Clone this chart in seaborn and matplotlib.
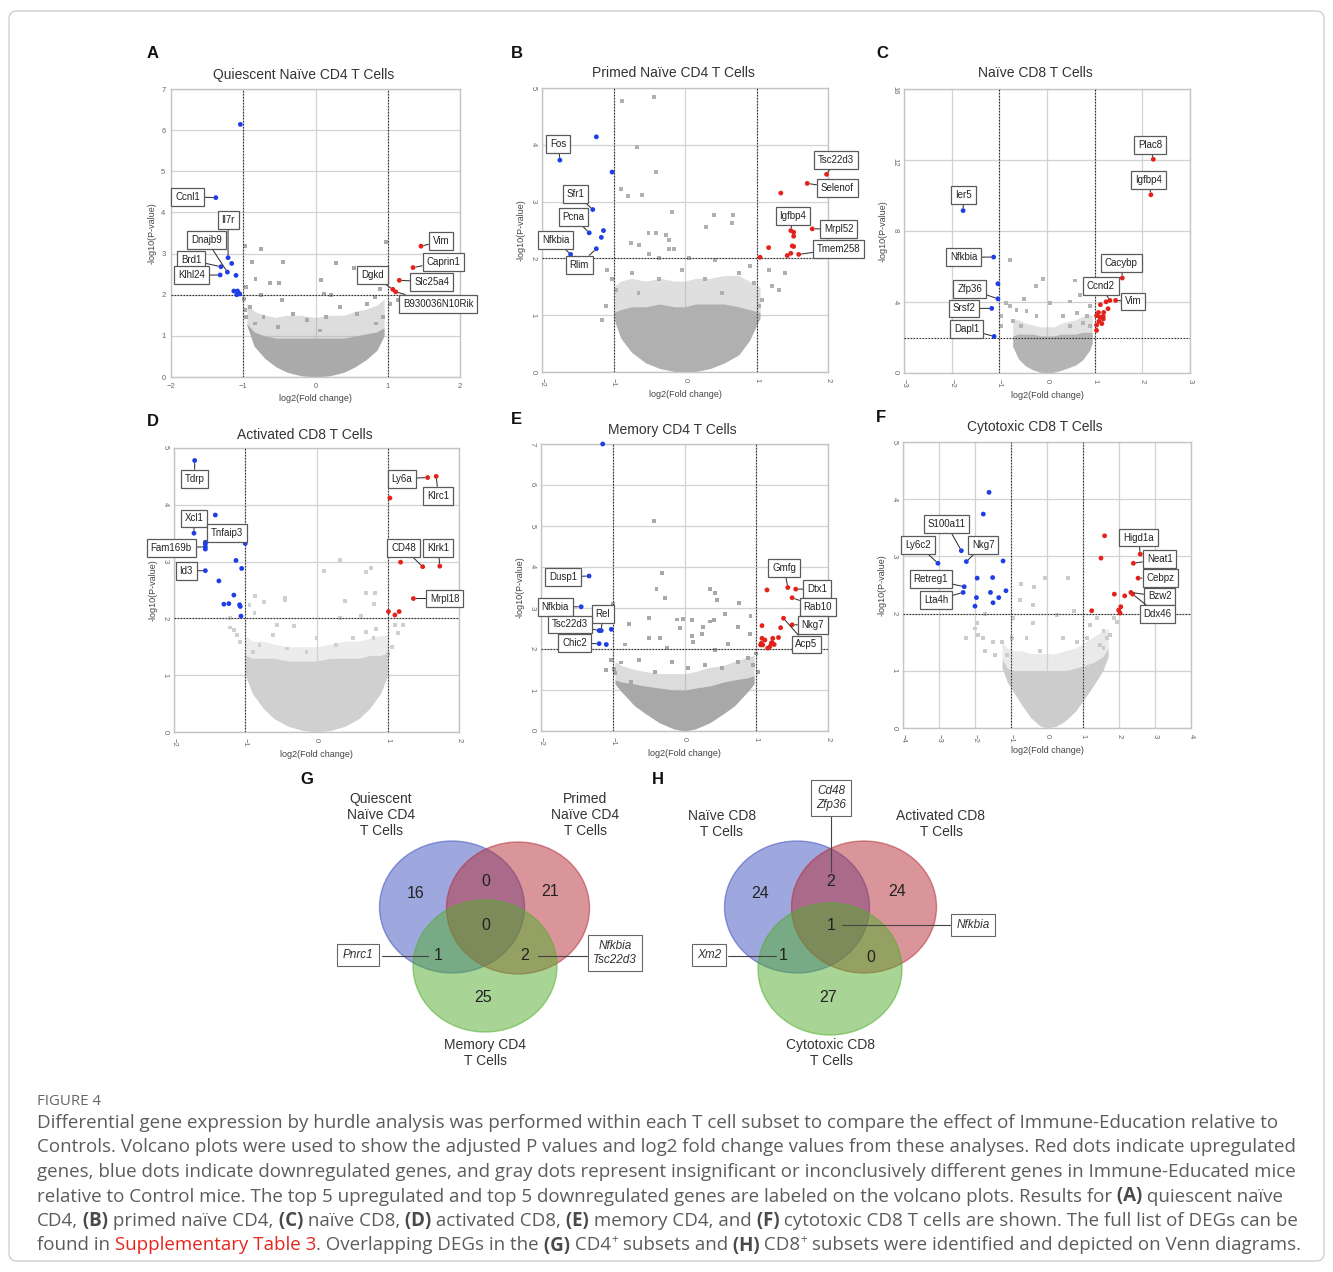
import matplotlib
matplotlib.use("Agg")
import matplotlib.pyplot as plt
from matplotlib.patches import Ellipse, FancyBboxPatch
import seaborn as sns
import numpy as np

sns.set_theme(style="white")
plt.rcParams['font.family'] = ['Liberation Sans', 'DejaVu Sans']

# ---------------------------------------------------------------- DATA
# Panel A  Quiescent Naive CD4
A_down = [(-1.04, 6.14), (-1.38, 4.36), (-1.21, 2.90), (-1.16, 2.76), (-1.31, 2.68), (-1.22, 2.55),
          (-1.10, 2.47), (-1.32, 2.48), (-1.13, 2.09), (-1.08, 2.09), (-1.06, 2.03), (-1.09, 2.00), (-1.05, 2.02)]
A_up = [(1.46, 3.18), (1.35, 2.66), (1.16, 2.35), (1.07, 2.13), (1.11, 2.07)]
A_ns = [(-0.98, 3.19), (-0.76, 3.12), (-0.88, 2.80), (-0.45, 2.80), (-0.83, 2.39), (-0.63, 2.29), (-0.50, 2.29),
        (-0.96, 2.19), (0.08, 2.35), (0.28, 2.77), (0.53, 2.66), (0.98, 3.28), (0.89, 2.15), (0.12, 2.03), (0.22, 2.00),
        (-0.75, 1.99), (-0.47, 1.87), (-0.91, 1.70), (-0.96, 1.46), (-0.84, 1.30), (-0.72, 1.46), (-0.31, 1.54),
        (-0.12, 1.38), (0.15, 1.46), (0.34, 1.70), (0.57, 1.54), (0.71, 1.78), (0.82, 1.95), (0.94, 1.46), (1.03, 1.78),
        (1.14, 1.87), (0.84, 1.30), (-0.52, 1.22), (0.06, 1.13), (-0.99, 1.90), (-0.97, 1.62)]
A_cloud_x = [-0.95, -0.85, -0.7, -0.55, -0.4, -0.2, 0, 0.2, 0.4, 0.55, 0.7, 0.85, 0.95]
A_cloud_lo = [1.25, 0.75, 0.45, 0.25, 0.12, 0.03, 0, 0.03, 0.12, 0.25, 0.42, 0.65, 1.0]
A_cloud_hi = [1.3, 1.1, 1.0, 0.95, 0.95, 0.95, 0.95, 0.95, 0.95, 1.0, 1.05, 1.1, 1.2]
A_cloud_top = [1.8, 1.6, 1.5, 1.45, 1.5, 1.5, 1.45, 1.5, 1.5, 1.6, 1.65, 1.75, 1.9]
A_genes = [("Ccnl1", (-1.38, 4.36)), ("Il7r", (-1.21, 2.90)), ("Dnajb9", (-1.22, 2.55)), ("Brd1", (-1.31, 2.68)),
           ("Klhl24", (-1.32, 2.48)), ("Vim", (1.46, 3.18)), ("Caprin1", (1.35, 2.66)), ("Slc25a4", (1.16, 2.35)),
           ("Dgkd", (1.07, 2.13)), ("B930036N10Rik", (1.11, 2.07))]

# Panel B  Primed Naive CD4
B_down = [(-1.75, 3.73), (-1.24, 4.14), (-1.02, 3.52), (-1.29, 2.86), (-1.34, 2.45), (-1.14, 2.49), (-1.17, 2.37),
          (-1.24, 2.17), (-1.60, 2.07)]
B_up = [(1.98, 3.48), (1.71, 3.32), (1.34, 3.15), (1.48, 2.49), (1.52, 2.46), (1.52, 2.39), (1.78, 2.52), (1.50, 2.22),
        (1.52, 2.21), (1.17, 2.19), (1.48, 2.09), (1.43, 2.05), (1.59, 2.07), (1.05, 2.02)]
B_ns = [(-0.88, 4.77), (-0.43, 4.84), (-0.67, 3.96), (-0.41, 3.52), (-0.90, 3.22), (-0.80, 3.10), (-0.60, 3.12),
        (-0.18, 2.81), (0.41, 2.76), (0.67, 2.77), (0.66, 2.63), (0.29, 2.56), (-0.51, 2.45), (-0.41, 2.45),
        (-0.27, 2.42), (-0.23, 2.33), (-0.75, 2.27), (-0.64, 2.24), (-0.23, 2.17), (-0.15, 2.17), (-0.50, 2.08),
        (-0.36, 2.00), (0.05, 2.00), (-1.09, 1.80), (-1.02, 1.63), (-0.97, 1.45), (-0.74, 1.74), (-0.65, 1.39),
        (-0.37, 1.63), (-0.04, 1.80), (0.28, 1.63), (0.42, 1.98), (0.52, 1.39), (0.75, 1.74), (0.91, 1.86),
        (0.96, 1.57), (1.17, 1.80), (1.22, 1.51), (1.31, 1.45), (1.40, 1.74), (-1.11, 1.16), (-1.16, 0.92),
        (1.08, 1.27), (1.03, 1.16)]
B_cloud_x = [-1.0, -0.9, -0.75, -0.55, -0.35, -0.15, 0, 0.15, 0.35, 0.55, 0.75, 0.9, 1.05]
B_cloud_lo = [0.95, 0.6, 0.35, 0.16, 0.06, 0.01, 0, 0.01, 0.06, 0.16, 0.3, 0.55, 0.95]
B_cloud_hi = [1.05, 1.1, 1.15, 1.15, 1.2, 1.15, 1.15, 1.2, 1.2, 1.2, 1.15, 1.1, 1.05]
B_cloud_top = [1.5, 1.6, 1.65, 1.6, 1.65, 1.6, 1.6, 1.65, 1.65, 1.7, 1.7, 1.6, 1.5]
B_genes = [("Fos", (-1.75, 3.73)), ("Sfr1", (-1.29, 2.86)), ("Pcna", (-1.34, 2.45)), ("Nfkbia", (-1.60, 2.07)),
           ("Rlim", (-1.24, 2.17)), ("Tsc22d3", (1.98, 3.48)), ("Selenof", (1.71, 3.32)), ("Igfbp4", (1.48, 2.49)),
           ("Mrpl52", (1.78, 2.52)), ("Tmem258", (1.59, 2.07))]

# Panel C  Naive CD8
C_down = [(-1.76, 9.15), (-1.12, 6.53), (-1.03, 5.03), (-1.03, 4.18), (-1.16, 3.64), (-1.11, 2.06)]
C_up = [(2.23, 12.04), (2.18, 10.04), (1.58, 5.35), (1.32, 4.09), (1.44, 4.09), (1.24, 4.01), (1.12, 3.85),
        (1.08, 3.41), (1.04, 3.23), (1.11, 3.15), (1.18, 3.19), (1.09, 2.91), (1.15, 2.78), (1.04, 2.70),
        (1.18, 3.04), (1.04, 2.40), (1.28, 3.62), (1.19, 3.41)]
C_ns = [(-0.78, 6.38), (-0.09, 5.31), (-0.24, 4.88), (0.58, 5.21), (0.70, 4.37), (-0.48, 4.18), (-0.86, 3.94),
        (0.06, 3.94), (0.49, 4.03), (0.90, 3.75), (-0.78, 3.75), (-0.64, 3.56), (-0.43, 3.47), (-0.22, 3.19),
        (0.34, 3.19), (0.62, 3.38), (0.83, 3.19), (-0.96, 2.63), (-0.71, 2.91), (-0.54, 2.63), (0.48, 2.63),
        (0.76, 2.81), (0.90, 2.63), (-0.96, 3.19)]
C_cloud_x = [-0.72, -0.6, -0.45, -0.3, -0.15, 0, 0.15, 0.3, 0.45, 0.6, 0.75, 0.9, 0.95]
C_cloud_lo = [1.5, 0.8, 0.4, 0.18, 0.05, 0, 0.05, 0.15, 0.3, 0.45, 0.75, 1.3, 1.7]
C_cloud_hi = [2.1, 2.2, 2.2, 2.2, 2.1, 2.1, 2.1, 2.2, 2.2, 2.2, 2.3, 2.3, 2.3]
C_cloud_top = [3.0, 3.0, 2.8, 2.7, 2.6, 2.6, 2.6, 2.8, 2.9, 3.0, 3.2, 3.3, 3.2]
C_genes = [("Ier5", (-1.76, 9.15)), ("Nfkbia", (-1.12, 6.53)), ("Zfp36", (-1.03, 4.18)), ("Srsf2", (-1.16, 3.64)),
           ("Dapl1", (-1.11, 2.06)), ("Plac8", (2.23, 12.04)), ("Igfbp4", (2.18, 10.04)), ("Cacybp", (1.58, 5.35)),
           ("Ccnd2", (1.32, 4.09)), ("Vim", (1.44, 4.09))]

# Panel D  Activated CD8
D_down = [(-1.71, 4.78), (-1.42, 3.82), (-1.72, 3.50), (-1.56, 3.34), (-1.56, 3.31), (-1.56, 3.26), (-1.56, 3.22),
          (-1.00, 3.32), (-1.13, 3.02), (-1.05, 2.88), (-1.56, 2.84), (-1.37, 2.66), (-1.16, 2.41), (-1.30, 2.25),
          (-1.23, 2.26), (-1.08, 2.24), (-1.07, 2.21), (-1.06, 2.04)]
D_up = [(1.56, 4.48), (1.68, 4.50), (1.03, 4.12), (1.18, 2.99), (1.49, 2.91), (1.73, 2.92), (1.36, 2.35),
        (1.01, 2.12), (1.10, 2.06), (1.16, 2.12)]
D_ns = [(0.33, 3.02), (0.10, 2.84), (0.76, 2.89), (0.70, 2.82), (0.69, 2.45), (0.82, 2.45), (0.81, 2.25),
        (0.40, 2.31), (-0.44, 2.36), (-0.44, 2.32), (-0.86, 2.40), (-0.74, 2.29), (-0.94, 2.24), (-0.87, 2.09),
        (-1.22, 2.00), (-1.22, 1.84), (-1.16, 1.79), (-1.12, 1.71), (-1.08, 1.59), (0.62, 2.05), (0.33, 2.00),
        (-0.56, 1.88), (-0.31, 1.87), (-0.61, 1.71), (0.00, 1.65), (0.28, 1.53), (0.51, 1.65), (0.70, 1.76),
        (0.80, 1.65), (0.84, 1.82), (1.10, 1.88), (1.14, 1.74), (1.21, 1.88), (1.06, 1.50), (1.00, 1.38),
        (-0.89, 1.41), (-0.80, 1.53), (-0.42, 1.47), (-0.14, 1.41)]
D_cloud_x = [-1.0, -0.9, -0.75, -0.6, -0.4, -0.2, 0, 0.2, 0.4, 0.6, 0.75, 0.9, 1.0]
D_cloud_lo = [1.0, 0.68, 0.42, 0.24, 0.1, 0.03, 0, 0.03, 0.1, 0.24, 0.42, 0.68, 1.0]
D_cloud_hi = [1.35, 1.3, 1.3, 1.3, 1.25, 1.25, 1.25, 1.3, 1.3, 1.3, 1.35, 1.35, 1.4]
D_cloud_top = [1.7, 1.6, 1.6, 1.55, 1.5, 1.5, 1.5, 1.55, 1.6, 1.6, 1.65, 1.7, 1.7]
D_genes = [("Tdrp", (-1.71, 4.78)), ("Xcl1", (-1.72, 3.50)), ("Tnfaip3", (-1.56, 3.31)), ("Fam169b", (-1.56, 3.26)),
           ("Id3", (-1.56, 2.84)), ("Ly6a", (1.56, 4.48)), ("Klrc1", (1.68, 4.50)), ("CD48", (1.49, 2.91)),
           ("Klrk1", (1.73, 2.92)), ("Mrpl18", (1.36, 2.35))]

# Panel E  Memory CD4
E_down = [(-1.14, 7.0), (-1.33, 3.78), (-1.44, 3.03), (-1.19, 2.45), (-1.16, 2.45), (-1.02, 2.48), (-1.19, 2.13),
          (-1.09, 2.11)]
E_up = [(1.15, 3.44), (1.44, 3.50), (1.55, 3.46), (1.50, 3.25), (1.50, 2.59), (1.38, 2.75), (1.34, 2.52),
        (1.08, 2.57), (1.31, 2.28), (1.08, 2.26), (1.12, 2.22), (1.07, 2.14), (1.09, 2.10), (1.23, 2.26),
        (1.22, 2.16), (1.25, 2.11), (1.19, 2.06), (1.16, 2.02), (1.21, 2.14), (1.06, 2.10)]
E_ns = [(-0.42, 5.13), (-0.32, 3.86), (-0.39, 3.46), (-0.27, 3.25), (0.35, 3.46), (0.43, 3.36), (0.45, 3.20),
        (0.76, 3.12), (0.56, 2.85), (0.92, 2.81), (0.41, 2.71), (0.36, 2.67), (0.75, 2.53), (0.26, 2.53),
        (-0.02, 2.73), (-0.10, 2.72), (0.10, 2.71), (-0.50, 2.75), (-0.77, 2.60), (-0.50, 2.26), (-0.34, 2.26),
        (-0.06, 2.52), (0.10, 2.32), (0.24, 2.36), (0.12, 2.18), (-0.25, 2.02), (0.42, 1.98), (0.91, 2.36),
        (0.61, 2.12), (-0.83, 2.11), (-0.98, 1.51), (-0.97, 1.41), (-1.10, 1.49), (-1.02, 1.73), (-0.64, 1.73),
        (-0.41, 1.45), (-0.18, 1.69), (0.05, 1.53), (0.28, 1.61), (0.52, 1.53), (0.75, 1.69), (0.89, 1.77),
        (0.96, 1.61), (1.00, 1.89), (1.03, 1.45), (-0.88, 1.67), (-0.74, 1.20), (-1.0, 3.1)]
E_cloud_x = [-0.97, -0.88, -0.7, -0.55, -0.35, -0.15, 0, 0.15, 0.35, 0.55, 0.7, 0.88, 0.97]
E_cloud_lo = [1.15, 0.96, 0.62, 0.43, 0.2, 0.05, 0, 0.05, 0.2, 0.43, 0.62, 0.96, 1.15]
E_cloud_hi = [1.25, 1.2, 1.15, 1.1, 1.05, 1.0, 1.0, 1.05, 1.1, 1.2, 1.25, 1.3, 1.35]
E_cloud_top = [1.7, 1.6, 1.5, 1.45, 1.4, 1.4, 1.4, 1.45, 1.55, 1.6, 1.7, 1.8, 1.85]
E_genes = [("Dusp1", (-1.33, 3.78)), ("Nfkbia", (-1.44, 3.03)), ("Rel", (-1.16, 2.45)), ("Tsc22d3", (-1.19, 2.45)),
           ("Chic2", (-1.19, 2.13)), ("Gmfg", (1.44, 3.50)), ("Dtx1", (1.55, 3.46)), ("Rab10", (1.50, 3.25)),
           ("Nkg7", (1.50, 2.59)), ("Acp5", (1.38, 2.75))]

# Panel F  Cytotoxic CD8
F_down = [(-1.61, 4.12), (-1.77, 3.74), (-2.38, 3.10), (-2.24, 2.91), (-3.03, 2.88), (-1.22, 2.92), (-1.94, 2.62),
          (-1.51, 2.63), (-2.30, 2.47), (-2.33, 2.37), (-1.57, 2.37), (-1.14, 2.40), (-1.96, 2.28), (-1.34, 2.28),
          (-1.50, 2.19), (-2.00, 2.13)]
F_up = [(1.60, 3.36), (1.50, 2.97), (2.59, 3.04), (2.40, 2.88), (2.53, 2.62), (1.87, 2.34), (2.16, 2.31),
        (2.33, 2.37), (2.38, 2.34), (2.05, 2.12), (1.99, 2.06), (2.03, 2.01), (1.24, 2.05)]
F_ns = [(-0.05, 2.62), (0.59, 2.62), (-0.71, 2.52), (-0.35, 2.47), (-0.38, 2.15), (-0.75, 2.24), (-1.73, 1.99),
        (-1.94, 1.84), (-2.00, 1.74), (-2.24, 1.58), (-1.91, 1.63), (-1.77, 1.57), (-1.49, 1.50), (-1.26, 1.51),
        (-0.96, 1.57), (-1.73, 1.34), (-1.45, 1.28), (-0.94, 1.92), (-0.38, 1.83), (0.27, 1.98), (0.76, 2.05),
        (1.20, 1.80), (1.38, 1.92), (1.57, 1.69), (1.66, 1.57), (1.75, 1.63), (1.94, 1.86), (1.85, 1.92),
        (1.48, 1.45), (1.57, 1.40), (1.10, 1.57), (0.83, 1.51), (0.45, 1.57), (-0.57, 1.57), (-0.19, 1.34),
        (-1.12, 1.28)]
F_cloud_x = [-1.25, -1.1, -0.9, -0.7, -0.45, -0.2, 0, 0.25, 0.5, 0.8, 1.05, 1.3, 1.55, 1.7]
F_cloud_lo = [1.05, 0.8, 0.6, 0.4, 0.18, 0.04, 0, 0.03, 0.12, 0.3, 0.52, 0.75, 1.0, 1.25]
F_cloud_hi = [1.2, 1.05, 1.0, 1.0, 1.0, 1.0, 1.0, 1.0, 1.0, 1.05, 1.1, 1.15, 1.25, 1.4]
F_cloud_top = [1.5, 1.4, 1.35, 1.35, 1.3, 1.3, 1.3, 1.3, 1.35, 1.4, 1.5, 1.6, 1.7, 1.75]
F_genes = [("S100a11", (-2.38, 3.10)), ("Nkg7", (-2.24, 2.91)), ("Ly6c2", (-3.03, 2.88)), ("Retreg1", (-2.30, 2.47)),
           ("Lta4h", (-2.33, 2.37)), ("Higd1a", (2.59, 3.04)), ("Neat1", (2.40, 2.88)), ("Cebpz", (2.53, 2.62)),
           ("Bzw2", (2.33, 2.37)), ("Ddx46", (2.38, 2.34))]

# Venn data
VENN_REGIONS = ["100", "010", "001", "110", "101", "011", "111"]
G_sets = ["Quiescent\nNaïve CD4\nT Cells", "Primed\nNaïve CD4\nT Cells", "Memory CD4\nT Cells"]
G_counts = [16, 21, 25, 0, 1, 2, 0]
G_shared = {"101": ["Pnrc1"], "011": ["Nfkbia", "Tsc22d3"]}
H_sets = ["Naïve CD8\nT Cells", "Activated CD8\nT Cells", "Cytotoxic CD8\nT Cells"]
H_counts = [24, 24, 27, 2, 1, 0, 1]
H_shared = {"110": ["Cd48", "Zfp36"], "111": ["Nfkbia"], "101": ["Xm2"]}

# ---------------------------------------------------------------- LAYOUT
W, H = 1333, 1272
fig = plt.figure(figsize=(W / 100, H / 100), dpi=100)

ov = fig.add_axes([0, 0, 1, 1], zorder=-1)
ov.set_xlim(0, W)
ov.set_ylim(H, 0)
ov.axis('off')
ov.add_patch(FancyBboxPatch((9, 11), 1315, 1250, boxstyle="round,pad=0,rounding_size=8",
                            fc='white', ec='#d0d0d0', lw=1.0))

def px_axes(x0, y0, x1, y1):
    return fig.add_axes([x0 / W, 1 - y1 / H, (x1 - x0) / W, (y1 - y0) / H])

BLUE, RED = '#1f3fe6', '#e3231b'

# label box centres (layout, data coordinates of each panel)
BOXES = {
    'A': [(-1.77, 4.38), (-1.21, 3.81), (-1.51, 3.33), (-1.72, 2.84), (-1.72, 2.47), (1.74, 3.30), (1.77, 2.80),
          (1.61, 2.31), (0.79, 2.47), (1.70, 1.78)],
    'B': [(-1.77, 4.02), (-1.53, 3.14), (-1.56, 2.73), (-1.81, 2.33), (-1.48, 1.89), (2.11, 3.73), (2.13, 3.24),
          (1.51, 2.74), (2.15, 2.52), (2.15, 2.17)],
    'C': [(-1.75, 10.04), (-1.75, 6.53), (-1.62, 4.73), (-1.74, 3.64), (-1.69, 2.48), (2.16, 12.85), (2.13, 10.88),
          (1.56, 6.19), (1.13, 4.88), (1.81, 4.03)],
    'D': [(-1.71, 4.46), (-1.72, 3.76), (-1.26, 3.50), (-2.04, 3.24), (-1.83, 2.84), (1.20, 4.46), (1.71, 4.16),
          (1.22, 3.24), (1.71, 3.24), (1.80, 2.35)],
    'E': [(-1.69, 3.76), (-1.80, 3.03), (-1.14, 2.85), (-1.60, 2.60), (-1.53, 2.14), (1.39, 3.97), (1.85, 3.46),
          (1.86, 3.02), (1.79, 2.59), (1.70, 2.11)],
    'F': [(-2.79, 3.56), (-1.77, 3.20), (-3.58, 3.20), (-3.23, 2.60), (-3.07, 2.24), (2.54, 3.33), (3.13, 2.95),
          (3.15, 2.62), (3.13, 2.30), (3.07, 1.99)],
}

PANELS = [
    dict(key='A', title='Quiescent Naïve CD4 T Cells', box=(171, 89, 460, 377), xlim=(-2, 2), ylim=(0, 7),
         xt=[-2, -1, 0, 1, 2], yt=list(range(8)), down=A_down, up=A_up, ns=A_ns,
         cloud=(A_cloud_x, A_cloud_lo, A_cloud_hi, A_cloud_top), genes=A_genes, gray='#aaaaaa', rot=0,
         letter=(147, 54), ttl=75),
    dict(key='B', title='Primed Naïve CD4 T Cells', box=(542, 88, 828, 372), xlim=(-2, 2), ylim=(0, 5),
         xt=[-2, -1, 0, 1, 2], yt=list(range(6)), down=B_down, up=B_up, ns=B_ns,
         cloud=(B_cloud_x, B_cloud_lo, B_cloud_hi, B_cloud_top), genes=B_genes, gray='#b0b0b0', rot=270,
         letter=(511, 54), ttl=73),
    dict(key='C', title='Naïve CD8 T Cells', box=(904, 89, 1190, 373), xlim=(-3, 3), ylim=(0, 16),
         xt=[-3, -2, -1, 0, 1, 2, 3], yt=[0, 4, 8, 12, 16], down=C_down, up=C_up, ns=C_ns,
         cloud=(C_cloud_x, C_cloud_lo, C_cloud_hi, C_cloud_top), genes=C_genes, gray='#b4b4b4', rot=270,
         letter=(876, 54), ttl=73),
    dict(key='D', title='Activated CD8 T Cells', box=(174, 448, 459, 732), xlim=(-2, 2), ylim=(0, 5),
         xt=[-2, -1, 0, 1, 2], yt=list(range(6)), down=D_down, up=D_up, ns=D_ns,
         cloud=(D_cloud_x, D_cloud_lo, D_cloud_hi, D_cloud_top), genes=D_genes, gray='#d0d0d0', rot=270,
         letter=(147, 422), ttl=435),
    dict(key='E', title='Memory CD4 T Cells', box=(541, 444, 828, 731), xlim=(-2, 2), ylim=(0, 7),
         xt=[-2, -1, 0, 1, 2], yt=list(range(8)), down=E_down, up=E_up, ns=E_ns,
         cloud=(E_cloud_x, E_cloud_lo, E_cloud_hi, E_cloud_top), genes=E_genes, gray='#a8a8a8', rot=270,
         letter=(511, 419), ttl=430),
    dict(key='F', title='Cytotoxic CD8 T Cells', box=(903, 442, 1191, 728), xlim=(-4, 4), ylim=(0, 5),
         xt=list(range(-4, 5)), yt=list(range(6)), down=F_down, up=F_up, ns=F_ns,
         cloud=(F_cloud_x, F_cloud_lo, F_cloud_hi, F_cloud_top), genes=F_genes, gray='#cccccc', rot=270,
         letter=(876, 418), ttl=427),
]

for P in PANELS:
    x0, y0, x1, y1 = P['box']
    ax = px_axes(x0, y0, x1, y1)
    ax.set_facecolor('white')
    ax.set_xlim(*P['xlim'])
    ax.set_ylim(*P['ylim'])
    ax.set_xticks(P['xt'])
    ax.set_yticks(P['yt'])
    ax.grid(True, color='#d2d2d2', lw=0.9)
    ax.set_axisbelow(True)
    for s in ax.spines.values():
        s.set_color('#c4c4c4')
        s.set_linewidth(1.0)
    ax.tick_params(axis='both', labelsize=5.5, colors='#666666', length=2, width=0.6, pad=2)
    ax.tick_params(axis='x', labelrotation=P['rot'])
    ax.tick_params(axis='y', labelrotation=(0 if P['rot'] == 0 else 270))

    cx, clo, chi, ctop = P['cloud']
    ax.fill_between(cx, chi, ctop, color=P['gray'], alpha=0.4, lw=0, zorder=2)
    ax.fill_between(cx, clo, chi, color=P['gray'], lw=0, zorder=2)

    ns = np.array(P['ns'])
    sns.scatterplot(x=ns[:, 0], y=ns[:, 1], color=P['gray'], s=8, marker='s', edgecolor='none', ax=ax,
                    zorder=3, legend=False)
    dn = np.array(P['down'])
    sns.scatterplot(x=dn[:, 0], y=dn[:, 1], color=BLUE, s=12, edgecolor='none', ax=ax, zorder=4,
                    legend=False, clip_on=False)
    up = np.array(P['up'])
    sns.scatterplot(x=up[:, 0], y=up[:, 1], color=RED, s=12, edgecolor='none', ax=ax, zorder=4,
                    legend=False, clip_on=False)

    for xv in (-1, 1):
        ax.axvline(xv, color='#333333', lw=0.8, ls=(0, (1.5, 1.2)), zorder=3)
    ax.axhline(2, color='#333333', lw=0.8, ls=(0, (1.5, 1.2)), zorder=3)

    for (gene, pt), bxy in zip(P['genes'], BOXES[P['key']]):
        ax.annotate(gene, xy=pt, xytext=bxy, textcoords='data', ha='center', va='center',
                    fontsize=7, color='#222222', annotation_clip=False, zorder=6,
                    bbox=dict(boxstyle='square,pad=0.4', fc='white', ec='#5a5a5a', lw=0.9),
                    arrowprops=dict(arrowstyle='-', color='#333333', lw=0.75, shrinkA=0, shrinkB=2))

    ax.set_xlabel('log2(Fold change)', fontsize=6.5, color='#444444', labelpad=3)
    ax.set_ylabel('-log10(P-value)', fontsize=6.5, color='#444444', labelpad=3)
    ov.text((x0 + x1) / 2 - 12, P['ttl'], P['title'], ha='center', va='center', fontsize=10, color='#333333')
    ov.text(P['letter'][0], P['letter'][1], P['key'], ha='left', va='center', fontsize=12,
            fontweight='bold', color='#111111')

# ---------------------------------------------------------------- VENN
VB = (64 / 255, 82 / 255, 191 / 255)
VR = (182 / 255, 45 / 255, 55 / 255)
VG = (82 / 255, 173 / 255, 45 / 255)

def venn(circles, sets, set_pos, counts, num_pos, shared, shared_pos, letter):
    for (c, col) in zip(circles, (VB, VR, VG)):
        ov.add_patch(Ellipse(c[:2], c[2], c[3], fc=col, alpha=0.5, ec='none', zorder=1))
        ov.add_patch(Ellipse(c[:2], c[2], c[3], fc='none', ec=col, alpha=0.55, lw=1.0, zorder=1))
    for name, pos in zip(sets, set_pos):
        ov.text(pos[0], pos[1], name, ha='center', va='center', fontsize=10, color='#333333',
                linespacing=1.15)
    for reg, cnt in zip(VENN_REGIONS, counts):
        px, py = num_pos[reg]
        ov.text(px, py, str(cnt), ha='center', va='center', fontsize=11.5, color='#222222', zorder=3)
    for reg, genes in shared.items():
        (bx, by), (lx0, ly0, lx1, ly1) = shared_pos[reg]
        ov.plot([lx0, lx1], [ly0, ly1], color='#444444', lw=0.8, zorder=2)
        ov.text(bx, by, "\n".join(genes), ha='center', va='center', fontsize=8.5, style='italic',
                color='#333333', zorder=4, linespacing=1.2,
                bbox=dict(boxstyle='square,pad=0.45', fc='white', ec='#666666', lw=0.8))
    ov.text(letter[0], letter[1], letter[2], ha='left', va='center', fontsize=12, fontweight='bold',
            color='#111111')

venn(circles=[(452, 907, 145, 132), (518, 908, 143, 132), (485, 966, 144, 132)],
     sets=G_sets, set_pos=[(381, 815), (585, 815), (485, 1053)], counts=G_counts,
     num_pos={"100": (416, 893), "110": (486, 882), "010": (550, 892), "111": (486, 925),
              "101": (438, 956), "011": (525, 956), "001": (483, 998)},
     shared=G_shared,
     shared_pos={"101": ((358, 955), (382, 956, 428, 956)), "011": ((615, 953), (538, 956, 587, 956))},
     letter=(300, 780, 'G'))

venn(circles=[(797, 907, 145, 132), (864, 907, 145, 132), (830, 969, 144, 132)],
     sets=H_sets, set_pos=[(722, 824), (941, 824), (831, 1053)], counts=H_counts,
     num_pos={"100": (760, 893), "110": (831, 881), "010": (897, 892), "111": (831, 925),
              "101": (783, 956), "011": (871, 957), "001": (828, 998)},
     shared=H_shared,
     shared_pos={"110": ((831, 798), (831, 815, 831, 872)), "111": ((973, 925), (842, 925, 950, 925)),
                 "101": ((709, 955), (728, 956, 776, 956))},
     letter=(652, 780, 'H'))

# ---------------------------------------------------------------- CAPTION
CAP = '#5c5c5c'
renderer = fig.canvas.get_renderer()

def seg_kw(kind, fs):
    kw = dict(fontsize=fs, color=CAP, family=['Open Sans', 'DejaVu Sans'], va='baseline', ha='left')
    if kind == 'b':
        kw['fontweight'] = 'bold'
        kw['color'] = '#4a4a4a'
    elif kind == 'r':
        kw['color'] = '#e8251d'
    elif kind == 'sup':
        kw['fontsize'] = fs * 0.62
    return kw

def text_w(s, kw):
    t = ov.text(0, 0, s, **kw)
    w = t.get_window_extent(renderer=renderer).width
    t.remove()
    return w

def seg_w(s, kw):
    return text_w("I" + s + "I", kw) - text_w("II", kw)

def draw_line(x, y, segs, fs):
    for s, kind in segs:
        kw = seg_kw(kind, fs)
        dy = -fs * 0.55 if kind == 'sup' else 0
        ov.text(x, y + dy, s, **kw)
        x += seg_w(s, kw)

LINES = [
    [("Differential gene expression by hurdle analysis was performed within each T cell subset to compare the effect of Immune-Education relative to", 'n')],
    [("Controls. Volcano plots were used to show the adjusted P values and log2 fold change values from these analyses. Red dots indicate upregulated", 'n')],
    [("genes, blue dots indicate downregulated genes, and gray dots represent insignificant or inconclusively different genes in Immune-Educated mice", 'n')],
    [("relative to Control mice. The top 5 upregulated and top 5 downregulated genes are labeled on the volcano plots. Results for", 'n'),
     (" (A)", 'b'), (" quiescent naïve", 'n')],
    [("CD4,", 'n'), (" (B)", 'b'), (" primed naïve CD4,", 'n'), (" (C)", 'b'), (" naïve CD8,", 'n'), (" (D)", 'b'),
     (" activated CD8,", 'n'), (" (E)", 'b'), (" memory CD4, and", 'n'), (" (F)", 'b'),
     (" cytotoxic CD8 T cells are shown. The full list of DEGs can be", 'n')],
    [("found in", 'n'), (" Supplementary Table 3", 'r'), (". Overlapping DEGs in the", 'n'), (" (G)", 'b'),
     (" CD4", 'n'), ("+", 'sup'), (" subsets and", 'n'), (" (H)", 'b'), (" CD8", 'n'), ("+", 'sup'),
     (" subsets were identified and depicted on Venn diagrams.", 'n')],
]

# calibrate font size on line 5 (target width 37 -> 1297 px)
fs0 = 12.0
w5 = sum(seg_w(s, seg_kw(k, fs0)) for s, k in LINES[4])
fs = fs0 * (1297 - 37) / w5

ov.text(37, 1105, "FIGURE 4", fontsize=fs * 0.8, color='#666666', family=['Open Sans', 'DejaVu Sans'],
        va='baseline', ha='left')
for i, segs in enumerate(LINES):
    draw_line(37, 1128 + i * 24.5, segs, fs)

fig.savefig("out.png", dpi=100, facecolor='white')
